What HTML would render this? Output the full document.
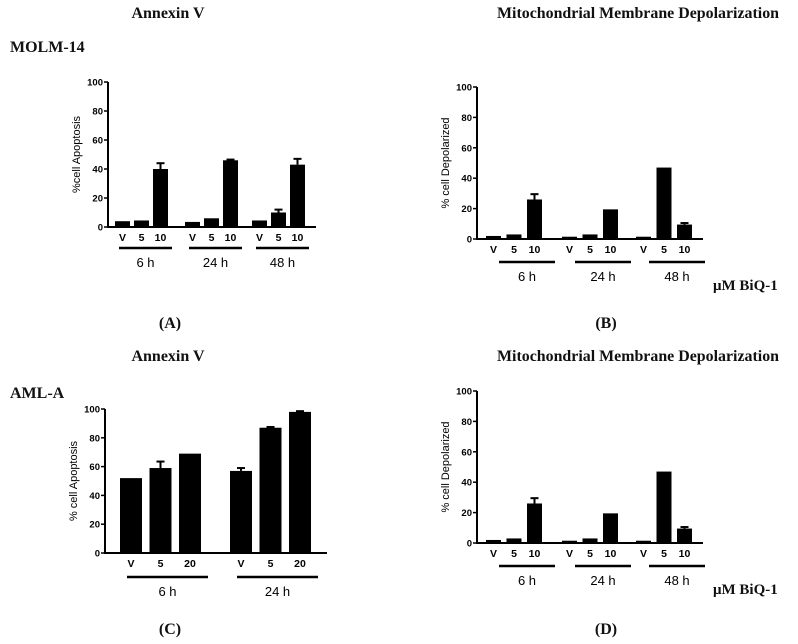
<!DOCTYPE html>
<html><head><meta charset="utf-8"><style>
body{margin:0;background:#fff}
svg{display:block}
.t{font-family:"Liberation Serif",serif;font-weight:bold;fill:#111}
.s{font-family:"Liberation Sans",sans-serif;fill:#000}
</style></head><body>
<svg id="fig" width="798" height="644" viewBox="0 0 798 644" xmlns="http://www.w3.org/2000/svg">
<text class="t" x="168" y="18" font-size="16" text-anchor="middle">Annexin V</text>
<text class="t" x="638" y="18" font-size="16" text-anchor="middle" textLength="282" lengthAdjust="spacingAndGlyphs">Mitochondrial Membrane Depolarization</text>
<text class="t" x="10" y="52" font-size="16">MOLM-14</text>
<text class="t" x="170" y="328" font-size="16" text-anchor="middle">(A)</text>
<text class="t" x="606" y="328" font-size="16" text-anchor="middle">(B)</text>
<text class="t" x="168" y="361" font-size="16" text-anchor="middle">Annexin V</text>
<text class="t" x="638" y="361" font-size="16" text-anchor="middle" textLength="282" lengthAdjust="spacingAndGlyphs">Mitochondrial Membrane Depolarization</text>
<text class="t" x="10" y="398" font-size="16">AML-A</text>
<text class="t" x="170" y="634" font-size="16" text-anchor="middle">(C)</text>
<text class="t" x="606" y="634" font-size="16" text-anchor="middle">(D)</text>
<text class="t" x="713" y="290" font-size="15">μM BiQ-1</text>
<text class="t" x="713" y="594" font-size="15">μM BiQ-1</text>
</svg>
<script>
const yTicks = [0,20,40,60,80,100];
const doseA = ["V","5","10"];
const doseC = ["V","5","20"];
const timesABD = ["6 h","24 h","48 h"];
const timesC = ["6 h","24 h"];
const valuesA = [4,4.5,40, 3.5,6,46, 4.5,10,43];
const errA = [0,0,4, 0,0,0.5, 0,2,4];
const valuesB = [2,3,26, 1.5,3,19.5, 1.5,47,9.5];
const errB = [0,0,3.5, 0,0,0, 0,0,1];
const valuesC = [52,59,69, 57,87,98];
const errC = [0,4.5,0, 2,0.5,0.5];
const valuesD = [2,3,26, 1.5,3,19.5, 1.5,47,9.5];
const errD = [0,0,3.5, 0,0,0, 0,0,1];

const NS="http://www.w3.org/2000/svg";
const svg=document.getElementById('fig');
function mk(tag,attrs,parent){const e=document.createElementNS(NS,tag);for(const k in attrs)e.setAttribute(k,attrs[k]);(parent||svg).appendChild(e);return e;}

function chart(cfg){
  const g=mk('g',{});
  
  
  const y=v=>cfg.y0-(cfg.y0-cfg.y100)*v/100;
  const ax=mk('path',{d:`M${cfg.ax},${cfg.y100} V${cfg.y0} H${cfg.axEnd}`,stroke:'#000','stroke-width':2,fill:'none'},g);
  
  
  yTicks.forEach(t=>{
    mk('line',{x1:cfg.ax-4,x2:cfg.ax,y1:y(t),y2:y(t),stroke:'#000','stroke-width':1.5},g);
    const tx=mk('text',{x:cfg.ax-5,y:y(t)+3.5,'font-size':9.5,'font-weight':'bold','text-anchor':'end',class:'s'},g);
    tx.textContent=t;
    
    
  });
  const yt=mk('text',{transform:`translate(${cfg.ax-28},${(cfg.y0+cfg.y100)/2}) rotate(-90)`,'font-size':11,'text-anchor':'middle',class:'s'},g);
  yt.textContent=cfg.ylabel;
  
  
  const n=cfg.doses.length;
  cfg.vals.forEach((v,i)=>{
    const grp=Math.floor(i/n), k=i%n;
    const x=cfg.gx[grp]+k*cfg.step;
    const r=mk('rect',{x:x,y:y(v),width:cfg.bw,height:cfg.y0-y(v),fill:'#000'},g);
    
    
    const e=cfg.err[i];
    if(e>0){
      mk('line',{x1:x+cfg.bw/2,x2:x+cfg.bw/2,y1:y(v),y2:y(v+e),stroke:'#000','stroke-width':2},g);
      const eb=mk('line',{x1:x+cfg.bw/2-4,x2:x+cfg.bw/2+4,y1:y(v+e),y2:y(v+e),stroke:'#000','stroke-width':2},g);
      
      
    }
    const lt=mk('text',{x:x+cfg.bw/2,y:cfg.y0+14,'font-size':10.5,'font-weight':'bold','text-anchor':'middle',class:'s'},g);
    lt.textContent=cfg.doses[k];
    
    
  });
  cfg.times.forEach((t,j)=>{
    const x0=cfg.gx[j]+cfg.ulOff, x1=cfg.gx[j]+(n-1)*cfg.step+cfg.bw+cfg.ulOff;
    const ul=mk('line',{x1:x0,x2:x1,y1:cfg.y0+cfg.ulY,y2:cfg.y0+cfg.ulY,stroke:'#000','stroke-width':2.5},g);
    
    
    const tt=mk('text',{x:(x0+x1)/2,y:cfg.y0+cfg.ulY+19,'font-size':13,'text-anchor':'middle',class:'s'},g);
    tt.textContent=t;
    
    
  });
}
chart({name:'chart-a',ax:108,axEnd:316,y100:82,y0:227,gx:[115,185,252],step:19,bw:15,doses:doseA,times:timesABD,vals:valuesA,err:errA,ylabel:'%cell Apoptosis',ulY:21,ulOff:4});
chart({name:'chart-b',ax:477,axEnd:703,y100:87,y0:239,gx:[486,562,636],step:20.5,bw:15,doses:doseA,times:timesABD,vals:valuesB,err:errB,ylabel:'% cell Depolarized',ulY:23,ulOff:13});
chart({name:'chart-c',ax:105,axEnd:327,y100:409,y0:553,gx:[120,230],step:29.5,bw:22,doses:doseC,times:timesC,vals:valuesC,err:errC,ylabel:'% cell Apoptosis',ulY:24,ulOff:7});
chart({name:'chart-d',ax:477,axEnd:703,y100:391,y0:543,gx:[486,562,636],step:20.5,bw:15,doses:doseA,times:timesABD,vals:valuesD,err:errD,ylabel:'% cell Depolarized',ulY:23,ulOff:13});
</script>
</body></html>
